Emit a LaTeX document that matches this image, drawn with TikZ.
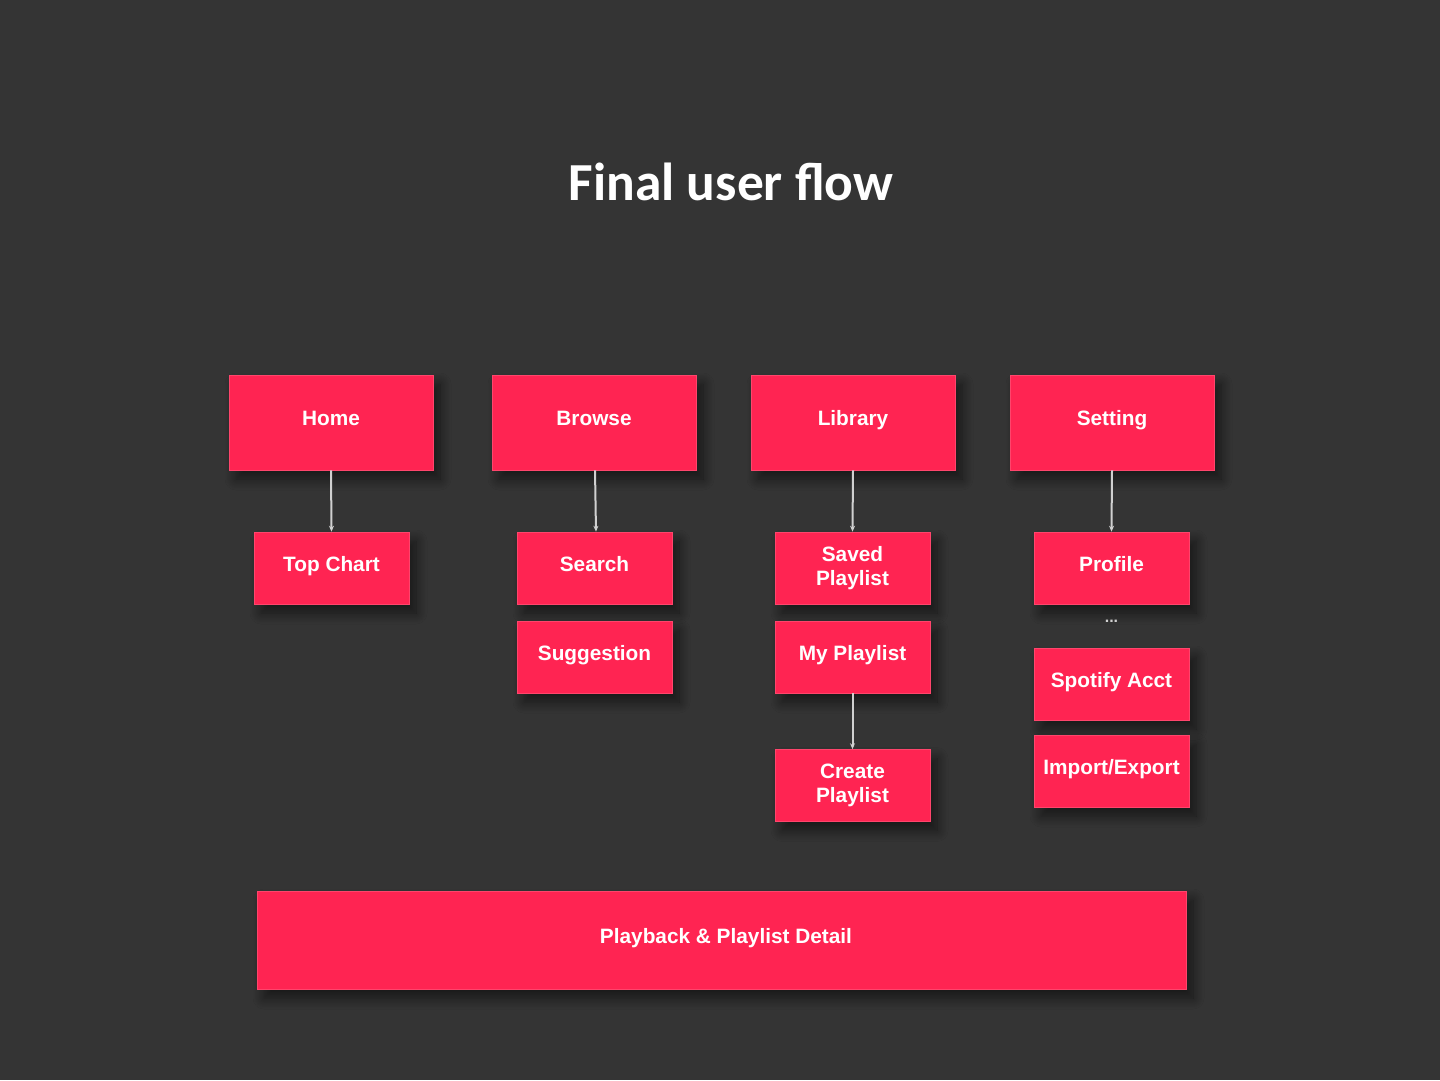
\documentclass[tikz,border=0pt]{standalone}
\usepackage{fontspec}
\setmainfont{Liberation Sans}
\newfontfamily\titlefont{Carlito}
\usetikzlibrary{shadows.blur,arrows.meta}
\definecolor{bg}{HTML}{343434}
\definecolor{boxred}{HTML}{FF2452}
\definecolor{arrowgray}{HTML}{D0D0D0}
\tikzset{
  card/.style={draw=boxred!85!white, line width=0.6pt, fill=boxred, inner sep=0pt, align=center,
    font=\fontsize{20.8}{24}\selectfont\bfseries, text=white,
    blur shadow={shadow xshift=7pt, shadow yshift=-9pt, shadow blur steps=12, shadow blur radius=11pt, shadow opacity=55}},
  one/.style={text height=15pt, text depth=9pt},
  flow/.style={draw=arrowgray, line width=2pt, -{Stealth[length=6pt,width=5pt]}}
}
\begin{document}
\begin{tikzpicture}[x=1pt,y=-1pt]
\fill[bg] (0,0) rectangle (1440,1080);
\useasboundingbox (0,0) rectangle (1440,1080);
\node[text=white, font=\titlefont\fontsize{53.5}{60}\selectfont\bfseries] (title) at (731,182) {Final user flow};
% top row
\node[card, one, minimum width=204pt, minimum height=95pt] (home) at (331,422.5) {Home};
\node[card, one, minimum width=204pt, minimum height=95pt] (browse) at (594,422.5) {Browse};
\node[card, one, minimum width=204pt, minimum height=95pt] (library) at (853,422.5) {Library};
\node[card, one, minimum width=204pt, minimum height=95pt] (setting) at (1112,422.5) {Setting};
% second level
\node[card, one, minimum width=155pt, minimum height=72pt] (topchart) at (331.5,568) {Top Chart};
\node[card, one, minimum width=155pt, minimum height=72pt] (search) at (594.5,568) {Search};
\node[card, one, minimum width=155pt, minimum height=72pt] (suggestion) at (594.5,657) {Suggestion};
\node[card, minimum width=155pt, minimum height=72pt] (saved) at (852.5,568) {Saved\\Playlist};
\node[card, one, minimum width=155pt, minimum height=72pt] (myplaylist) at (852.5,657) {My Playlist};
\node[card, minimum width=155pt, minimum height=72pt] (create) at (852.5,785.5) {Create\\Playlist};
\node[card, one, minimum width=155pt, minimum height=72pt] (profile) at (1111.5,568) {Profile};
\node[text=arrowgray, font=\fontsize{16}{18}\selectfont\bfseries, inner sep=0pt] (dots) at (1111.5,621) {...};
\node[card, one, minimum width=155pt, minimum height=72pt] (spotify) at (1111.5,684) {Spotify Acct};
\node[card, one, minimum width=155pt, minimum height=72pt] (import) at (1111.5,771) {Import/Export};
% bottom
\node[card, one, minimum width=929pt, minimum height=98pt] (playback) at (721.5,940) {\hspace*{9pt}Playback \& Playlist Detail};
% connectors
\draw[flow] (home.south) -- (topchart.north);
\draw[flow] ([xshift=1pt]browse.south) -- ([xshift=1.5pt]search.north);
\draw[flow] (library.south) -- (saved.north);
\draw[flow] (setting.south) -- (profile.north);
\draw[flow] (myplaylist.south) -- (create.north);
\end{tikzpicture}
\end{document}
